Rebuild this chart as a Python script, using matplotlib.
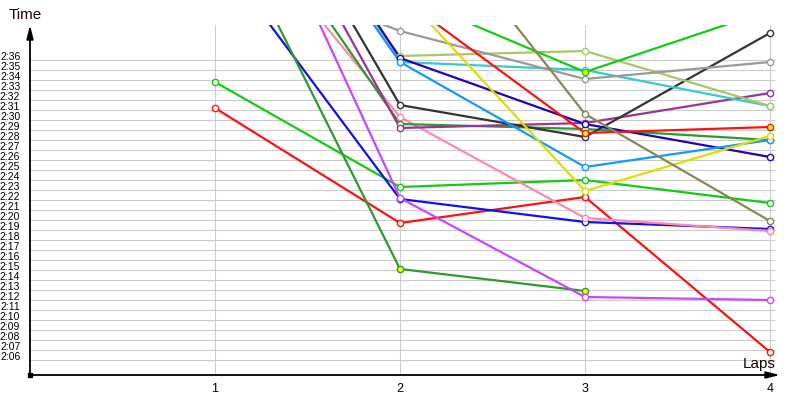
import matplotlib
matplotlib.use('Agg')
import matplotlib.pyplot as plt

plt.rcParams['font.family'] = ['Liberation Sans', 'DejaVu Sans']

laps = [1, 2, 3, 4]

# lap times in seconds (None = no lap); values above 2:39 are off the top
green_a = [153.8, 143.3, 144.0, 141.7]
red_a = [151.2, 139.7, 142.3, 126.8]
blue = [166.9, 142.1, 139.8, 139.1]
forest_a = [172.1, 135.1, 132.9, None]
violet = [182.2, 142.2, 132.3, 132.0]
pink = [172.9, 150.3, 140.2, 138.9]
forest_b = [176.4, 149.6, 149.1, 148.0]
purple = [182.7, 149.2, 149.7, 152.7]
black = [183.2, 151.5, 148.3, 158.7]
cyan = [182.6, 155.8, 155.0, 151.4]
yellowgreen = [180.6, 156.4, 156.9, 151.4]
darkblue = [184.1, 156.2, 149.6, 146.3]
dodger = [182.0, 155.8, 145.3, 148.0]
gray = [166.0, 158.9, 154.1, 155.8]
yellow = [None, 162.9, 142.9, 148.4]
red_b = [None, 162.3, 148.7, 149.3]
green_b = [None, 162.6, 154.8, 161.0]
olive = [None, 174.2, 150.6, 139.9]

series = [
    (green_a, '#11cc11', []),
    (red_a, '#ff1111', []),
    (blue, '#1111ee', []),
    (forest_a, '#2e9a2e', [1, 2]),
    (violet, '#cc44ff', []),
    (pink, '#ff88aa', []),
    (forest_b, '#2e9a2e', []),
    (purple, '#993399', []),
    (black, '#333333', []),
    (cyan, '#33cccc', []),
    (yellowgreen, '#a8c866', []),
    (darkblue, '#2200bb', []),
    (dodger, '#1199ff', []),
    (gray, '#999999', []),
    (yellow, '#dddd00', []),
    (red_b, '#ff1111', [2, 3]),
    (green_b, '#11cc11', [2]),
    (olive, '#888855', []),
]

yticks = list(range(126, 157))
ytick_labels = ['2:%02d' % (t - 120) for t in yticks]

fig = plt.figure(figsize=(8, 4), dpi=100)
ax = fig.add_axes([30 / 800, 25 / 400, 750 / 800, 350 / 400])
ax.set_xlim(0, 750 / 185)
ax.set_ylim(124.5, 159.5)

# grid
ax.hlines(yticks, 0, 745 / 185, color='#cccccc', lw=0.8, zorder=0)
ax.vlines(laps, 124.5, 159.5, color='#cccccc', lw=0.8, zorder=0)

for vals, col, filled in series:
    xs = [l for l, v in zip(laps, vals) if v is not None]
    ys = [v for v in vals if v is not None]
    ax.plot(xs, ys, color=col, lw=1.6, zorder=2)
    for x, y in zip(xs, ys):
        fc = 'yellow' if laps.index(x) in filled else 'white'
        ax.plot([x], [y], marker='o', ms=4.5, mfc=fc, mec=col, mew=1.0,
                zorder=3)

for s in ax.spines.values():
    s.set_visible(False)

ax.set_xticks(laps)
ax.set_xticklabels([str(l) for l in laps], fontsize=9)
ax.set_yticks(yticks)
ax.set_yticklabels(ytick_labels, fontsize=7.5)
for tl in ax.get_yticklabels():
    tl.set_va('baseline')
ax.tick_params(length=0)
ax.tick_params(axis='y', pad=7)
ax.tick_params(axis='x', pad=6)

# axes with arrows
arrow = dict(arrowstyle='-|>,head_length=0.8,head_width=0.2', lw=1.3,
             color='black', shrinkA=0, shrinkB=0)
ax.annotate('', xy=(0, 1), xytext=(0, 0), xycoords='axes fraction',
            arrowprops=arrow, annotation_clip=False)
ax.annotate('', xy=(1, 0), xytext=(0, 0), xycoords='axes fraction',
            arrowprops=arrow, annotation_clip=False)
ax.plot([0], [0], marker='s', ms=3, color='black', transform=ax.transAxes,
        clip_on=False, zorder=5)

fig.text(25 / 800, 1 - 15 / 400, 'Time', fontsize=11, ha='center',
         va='center', color='#220000')
fig.text(759 / 800, 1 - 364 / 400, 'Laps', fontsize=11, ha='center',
         va='center', color='#220000')

fig.savefig('out.png', dpi=100)
